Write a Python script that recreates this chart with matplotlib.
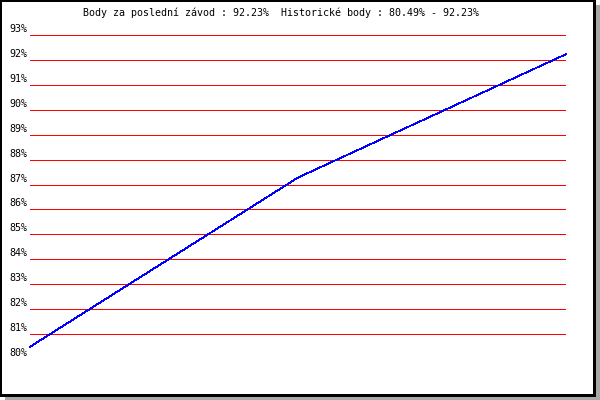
import matplotlib
matplotlib.use("Agg")
import matplotlib.pyplot as plt
from matplotlib.patches import Rectangle

# data
races = [0, 1, 2]
points = [80.49, 87.28, 92.23]
grid_levels = list(range(80, 94))
title = "Body za poslední závod : 92.23%  Historické body : 80.49% - 92.23%"

plt.rcParams['font.family'] = ['DejaVu Sans Mono']
plt.rcParams['font.size'] = 7.2

W, H = 600, 400
fig = plt.figure(figsize=(W / 100, H / 100), dpi=100)
fig.patch.set_facecolor("white")


def px_rect(x0, y0, x1, y1, color):
    # rectangle given in image pixels (top-left origin)
    r = Rectangle((x0 / W, 1 - y1 / H), (x1 - x0) / W, (y1 - y0) / H,
                  transform=fig.transFigure, facecolor=color,
                  edgecolor="none", zorder=-10)
    fig.add_artist(r)


# shadow, frame, inner white
px_rect(5, 5, 600, 400, "#a8a8a8")
px_rect(0, 0, 596, 397, "black")
px_rect(2, 2, 593, 394, "white")

# plot area: x 30..566, y 35 (93%) .. 359 (80%)
ax = fig.add_axes([30 / W, 1 - 359 / H, 536 / W, 324 / H])
ax.set_facecolor("none")
ax.set_xlim(races[0], races[-1])
ax.set_ylim(80, 93)
for s in ax.spines.values():
    s.set_visible(False)
ax.set_xticks([])
ax.set_yticks([])

for lv in grid_levels:
    ax.axhline(lv, color="#ff0000", lw=0.6, antialiased=False)
    ax.annotate(f"{lv}%", xy=(0, lv), xycoords=("axes fraction", "data"),
                xytext=(-3, 6), textcoords="offset pixels",
                ha="right", va="center", clip_on=False)

ax.plot(races, points, color="#0000ff", lw=0.6, antialiased=False,
        clip_on=False)

fig.text(83 / W, 1 - 13 / H, title, ha="left", va="center")

fig.savefig("out.png", dpi=100)
